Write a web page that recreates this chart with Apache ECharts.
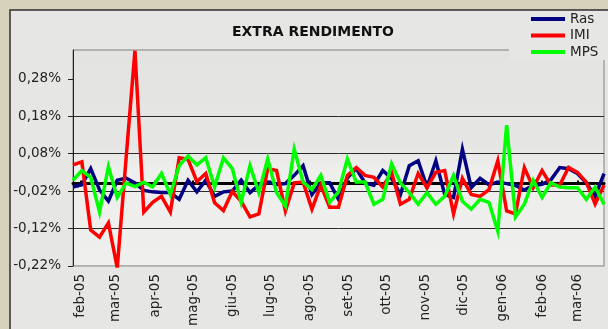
<!DOCTYPE html>
<html>
<head>
<meta charset="utf-8">
<script src="https://cdn.jsdelivr.net/npm/echarts@6/dist/echarts.min.js"></script>
<style>
  html, body { margin: 0; padding: 0; background: #d6d2bc; }
  #chart { width: 608px; height: 329px; }
</style>
</head>
<body>
<div id="chart"></div>
<script>
// Weekly observation dates
const weeks = [
  '2005-01-26','2005-02-02','2005-02-09','2005-02-16','2005-02-23',
  '2005-03-02','2005-03-09','2005-03-16','2005-03-23','2005-03-30',
  '2005-04-06','2005-04-13','2005-04-20','2005-04-27',
  '2005-05-04','2005-05-11','2005-05-18','2005-05-25',
  '2005-06-01','2005-06-08','2005-06-15','2005-06-22','2005-06-29',
  '2005-07-06','2005-07-13','2005-07-20','2005-07-27',
  '2005-08-03','2005-08-10','2005-08-17','2005-08-24','2005-08-31',
  '2005-09-07','2005-09-14','2005-09-21','2005-09-28',
  '2005-10-05','2005-10-12','2005-10-19','2005-10-26',
  '2005-11-02','2005-11-09','2005-11-16','2005-11-23','2005-11-30',
  '2005-12-07','2005-12-14','2005-12-21','2005-12-28',
  '2006-01-04','2006-01-11','2006-01-18','2006-01-25',
  '2006-02-01','2006-02-08','2006-02-15','2006-02-22',
  '2006-03-01','2006-03-08','2006-03-15','2006-03-22'
];

// Weekly extra return, in percent
const ras = [
  -0.009,-0.003, 0.040,-0.017,-0.047, 0.009, 0.015, 0.002,-0.018,-0.022,
  -0.024,-0.024,-0.042, 0.009,-0.022, 0.009,-0.034,-0.022,-0.020, 0.009,
  -0.024,-0.004, 0.004,-0.002, 0.000, 0.022, 0.048,-0.029, 0.002, 0.002,
  -0.042, 0.015, 0.040, 0.002,-0.004, 0.035, 0.014,-0.029, 0.048, 0.061,
  -0.009, 0.061,-0.029,-0.037, 0.092,-0.011, 0.014,-0.003, 0.004, 0.000,
  -0.005,-0.017,-0.005,-0.002, 0.010, 0.043, 0.040, 0.027, 0.002,-0.034,
   0.027
];
const imi = [
   0.050, 0.058,-0.124,-0.143,-0.105,-0.225, 0.068, 0.355,-0.076,-0.050,
  -0.034,-0.076, 0.069, 0.065, 0.005, 0.027,-0.051,-0.072,-0.021,-0.047,
  -0.089,-0.081, 0.040, 0.035,-0.073, 0.002, 0.004,-0.068,-0.004,-0.063,
  -0.063, 0.022, 0.043, 0.022, 0.017,-0.009, 0.030,-0.055,-0.042, 0.027,
  -0.011, 0.030, 0.035,-0.081, 0.014,-0.029,-0.034,-0.016, 0.061,-0.073,
  -0.081, 0.043,-0.011, 0.035,-0.004,-0.004, 0.043, 0.030, 0.004,-0.055,
  -0.004
];
const mps = [
   0.009, 0.035, 0.017,-0.076, 0.045,-0.037, 0.002,-0.008, 0.004,-0.009,
   0.027,-0.029, 0.048, 0.074, 0.050, 0.069,-0.009, 0.069, 0.040,-0.050,
   0.048,-0.024, 0.066,-0.024,-0.060, 0.092, 0.004,-0.016, 0.022,-0.050,
  -0.022, 0.066, 0.004, 0.004,-0.055,-0.042, 0.053, 0.002,-0.024,-0.055,
  -0.024,-0.055,-0.034, 0.022,-0.047,-0.068,-0.042,-0.050,-0.127, 0.156,
  -0.089,-0.055, 0.009,-0.037, 0.002,-0.009,-0.011,-0.011,-0.042,-0.009,
  -0.055
];

const seriesNames = ['Ras', 'IMI', 'MPS'];
const seriesColors = ['#000080', '#ff0000', '#00ff00'];

// Month ticks on the date axis and their short Italian names
const monthTicks = [
  '2005-02-01','2005-03-01','2005-04-01','2005-05-01','2005-06-01','2005-07-01',
  '2005-08-01','2005-09-01','2005-10-01','2005-11-01','2005-12-01','2006-01-01',
  '2006-02-01','2006-03-01'
];
const monthNames = ['gen','feb','mar','apr','mag','giu','lug','ago','set','ott','nov','dic'];

// Value axis ticks (percent)
const yTicks = [-0.22, -0.12, -0.02, 0.08, 0.18, 0.28];
const yMin = -0.22, yMax = 0.357, yStep = 0.1;

const toTs = s => { const p = s.split('-').map(Number); return Date.UTC(p[0], p[1] - 1, p[2]); };
const weekTs = weeks.map(toTs);
const monthTs = monthTicks.map(toTs);
const FONT = 'DejaVu Sans';

const fmtMonth = v => {
  const d = new Date(v);
  return monthNames[d.getUTCMonth()] + '-' + String(d.getUTCFullYear()).slice(2);
};
const fmtPct = v => v.toFixed(2).replace('.', ',') + '%';

const valuesBySeries = [ras, imi, mps];

const chart = echarts.init(document.getElementById('chart'), null, { renderer: 'canvas' });
chart.setOption({
  animation: false,
  backgroundColor: '#d6d2bc',
  graphic: [{
    type: 'rect',
    z: -10,
    shape: { x: 10, y: 10, width: 610, height: 330 },
    style: { fill: '#e6e6e4', stroke: '#2e2e2e', lineWidth: 1.5 }
  }],
  title: {
    text: 'EXTRA RENDIMENTO',
    left: 232, top: 25,
    padding: 0,
    textStyle: { fontFamily: FONT, fontSize: 14, fontWeight: 'bold', color: '#111' }
  },
  legend: {
    orient: 'vertical',
    left: 509, top: 11,
    padding: [1, 8, 1, 22],
    itemGap: 2.5,
    itemWidth: 34, itemHeight: 4,
    icon: 'rect',
    backgroundColor: '#e6e6e4',
    textStyle: { fontFamily: FONT, fontSize: 13.5, color: '#222' },
    data: seriesNames
  },
  grid: {
    left: 73, right: 4, top: 50, bottom: 56,
    show: true,
    borderColor: '#808080', borderWidth: 1,
    backgroundColor: {
      type: 'linear', x: 0, y: 0, x2: 0, y2: 1,
      colorStops: [
        { offset: 0, color: '#e3e3e1' },
        { offset: 0.45, color: '#e6e6e5' },
        { offset: 0.55, color: '#eeeeed' },
        { offset: 1, color: '#efefee' }
      ]
    }
  },
  xAxis: [{
    type: 'value',
    min: weekTs[0], max: weekTs[weekTs.length - 1],
    axisLine: { show: false, onZero: false },
    axisTick: { show: false },
    splitLine: { show: false },
    axisLabel: {
      rotate: 90, margin: 8,
      customValues: monthTs,
      formatter: fmtMonth,
      fontFamily: FONT, fontSize: 13.5, color: '#222'
    }
  }, {
    type: 'value',
    min: weekTs[0], max: weekTs[weekTs.length - 1],
    axisLine: { show: true, onZero: true, lineStyle: { color: '#000', width: 3 } },
    axisTick: { show: true, customValues: monthTs, length: 3, lineStyle: { color: '#000', width: 2 } },
    axisLabel: { show: false },
    splitLine: { show: false }
  }],
  yAxis: {
    type: 'value',
    min: yMin, max: yMax, interval: yStep,
    axisLine: { show: true, onZero: false, lineStyle: { color: '#222', width: 1 } },
    axisTick: { show: true, customValues: yTicks, length: 5, lineStyle: { color: '#222' } },
    axisLabel: {
      customValues: yTicks, margin: 12, formatter: fmtPct,
      fontFamily: FONT, fontSize: 13.5, color: '#222'
    },
    splitLine: { show: true, showMinLine: false, showMaxLine: false, lineStyle: { color: '#2a2a2a', width: 1 } }
  },
  series: seriesNames.map((name, k) => ({
    name,
    type: 'line',
    xAxisIndex: 0,
    showSymbol: false,
    symbol: 'none',
    lineStyle: { width: 3.5, color: seriesColors[k], join: 'miter' },
    itemStyle: { color: seriesColors[k] },
    data: weekTs.map((t, i) => [t, valuesBySeries[k][i]])
  }))
});
</script>
</body>
</html>
